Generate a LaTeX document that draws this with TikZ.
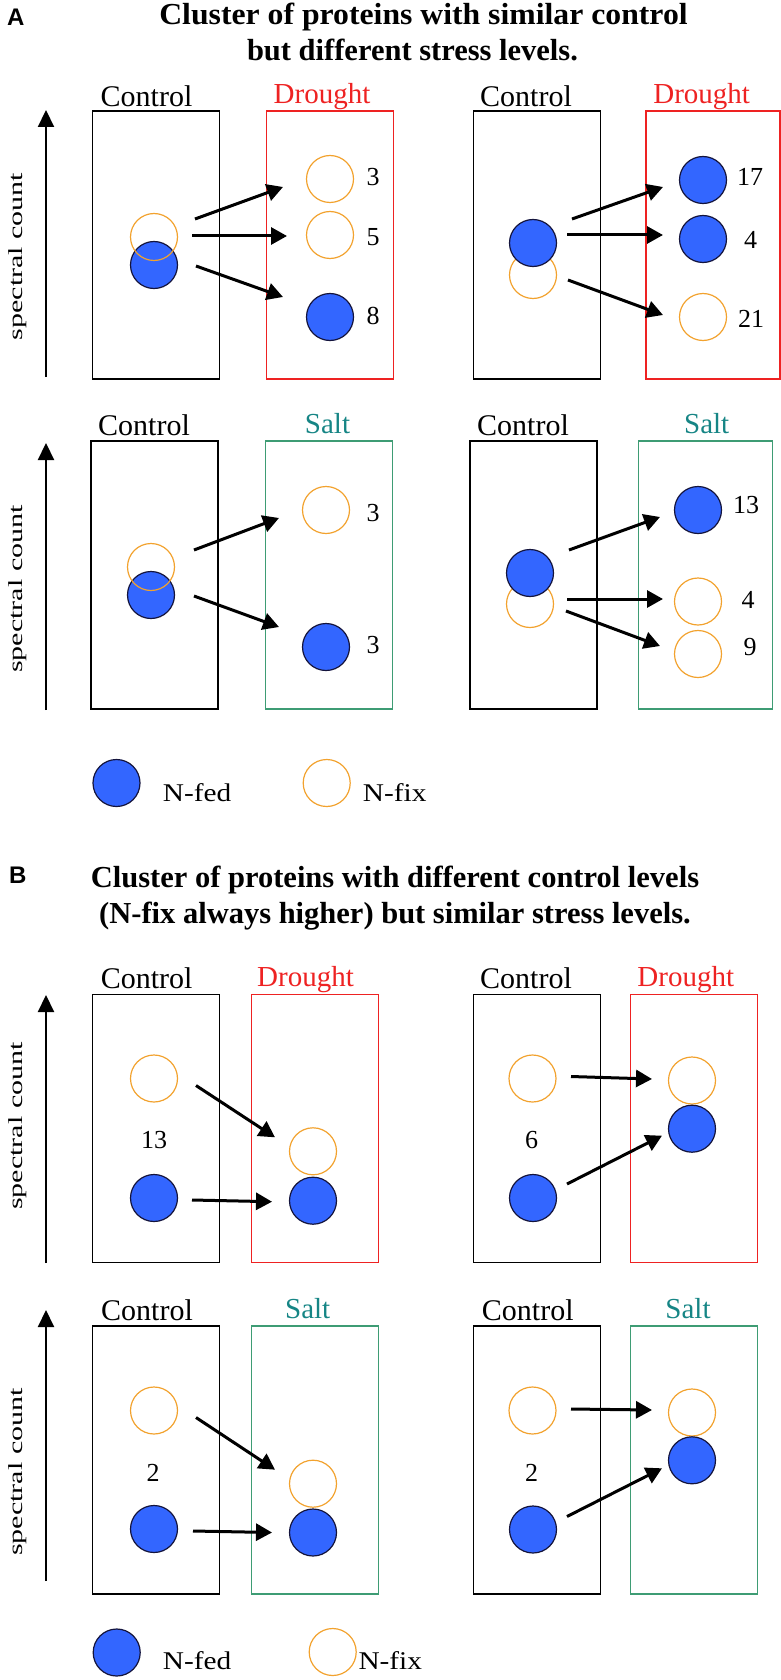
\documentclass[tikz,border=0pt]{standalone}
\usepackage{fontspec}
\setmainfont{Liberation Serif}
\newfontfamily\panelfont{Liberation Sans}
\usetikzlibrary{arrows.meta,positioning,calc}
\definecolor{nfed}{HTML}{3366FF}
\definecolor{nfededge}{HTML}{14143C}
\definecolor{nfix}{HTML}{F2A22E}
\definecolor{drought}{HTML}{EE2222}
\definecolor{saltgreen}{HTML}{3E9C74}
\definecolor{salttext}{HTML}{168585}
\tikzset{
  ctrlbox/.style={draw=black, line width=1.3pt, minimum width=127pt, minimum height=268pt, inner sep=0pt},
  droughtbox/.style={ctrlbox, draw=drought},
  saltbox/.style={ctrlbox, draw=saltgreen},
  fed/.style={circle, minimum size=47pt, inner sep=0pt, fill=nfed, draw=nfededge, line width=1.2pt},
  fix/.style={circle, minimum size=47pt, inner sep=0pt, draw=nfix, line width=1.2pt},
  levelarrow/.style={-{Triangle[length=16pt,width=17pt]}, line width=3pt},
  countaxis/.style={-{Triangle[length=17pt,width=16pt]}, line width=2.2pt},
  cond/.style={anchor=base, inner sep=0pt, font=\fontsize{30}{36}\selectfont},
  stress/.style={cond, font=\fontsize{29}{34}\selectfont},
  numlabel/.style={inner sep=0pt, font=\fontsize{26}{30}\selectfont},
  ylab/.style={anchor=base, rotate=90, inner sep=0pt, font=\fontsize{20}{24}\selectfont},
  heading/.style={align=center, inner sep=0pt, font=\fontsize{30.5}{36}\selectfont\bfseries},
  panelletter/.style={anchor=base west, inner sep=0pt, font=\fontsize{24}{26}\selectfont\panelfont\bfseries},
  legendtext/.style={anchor=base west, inner sep=0pt, font=\fontsize{25.5}{30}\selectfont}
}
\begin{document}
\begin{tikzpicture}[x=1pt, y=-1pt]
  \useasboundingbox (0,0) rectangle (781,1680);

  % ---------- panel A ----------
  \node[panelletter] (pA) at (7,25.5) {A};
  % base anchor = baseline of the last line
  \node[heading, anchor=base] (hA) at (412.5,61) {\hspace*{22pt}\scalebox{1.04}[1]{Cluster of proteins with similar control}\\but different stress levels.};

  % A: control vs drought, left
  \node[ctrlbox] (a1c) at (155.9,245) {};
  \node[droughtbox] (a1s) at (329.9,245) {};
  \node[cond] (a1cl) at (146.5,106.5) {Control};
  \node[stress, text=drought] (a1sl) at (322,104) {Drought};
  \coordinate (a1lo) at (46,377);
  \coordinate (a1hi) at (46,110);
  \draw[countaxis] (a1lo) -- (a1hi);
  \node[ylab] (a1lab) at (23,256.5) {\scalebox{1.5}[1]{spectral count}};
  \node[fed] (a1b) at (154,265) {};
  \node[fix] (a1o) at (154,237) {};
  \node[fix] (a1p) at (330,179) {};
  \node[fix] (a1q) at (330,235) {};
  \node[fed] (a1r) at (330,317) {};
  \node[numlabel] (a1np) at (373,177) {3};
  \node[numlabel] (a1nq) at (373,237) {5};
  \node[numlabel] (a1nr) at (373,316) {8};
  \draw[levelarrow] ($(a1o)+(41,-18)$) -- ($(a1p)+(-47,8)$);
  \draw[levelarrow] ($(a1o)+(38,-1)$) -- ($(a1q)+(-43,1)$);
  \draw[levelarrow] ($(a1b)+(42,1)$) -- ($(a1r)+(-47,-20)$);

  % A: control vs drought, right
  \node[ctrlbox] (a2c) at (536.7,245) {};
  \node[droughtbox, minimum width=134pt] (a2s) at (713,245) {};
  \node[cond] (a2cl) at (526,106.5) {Control};
  \node[stress, text=drought] (a2sl) at (701.7,104) {Drought};
  \node[fix] (a2o) at (533,275) {};
  \node[fed] (a2b) at (533,243) {};
  \node[fed] (a2p) at (703,180) {};
  \node[fed] (a2q) at (703,239) {};
  \node[fix] (a2r) at (703,317) {};
  \node[numlabel] (a2np) at (750,177) {17};
  \node[numlabel] (a2nq) at (750.5,240) {4};
  \node[numlabel] (a2nr) at (751,319) {21};
  \draw[levelarrow] ($(a2b)+(39,-24)$) -- ($(a2p)+(-40,7)$);
  \draw[levelarrow] ($(a2b)+(34,-8)$) -- ($(a2q)+(-40,-4)$);
  \draw[levelarrow] ($(a2o)+(35,5)$) -- ($(a2r)+(-40,-2)$);

  % A: control vs salt, left
  \node[ctrlbox] (a3c) at (154.4,575) {};
  \node[saltbox] (a3s) at (329,575) {};
  \node[cond] (a3cl) at (144,435) {Control};
  \node[stress, text=salttext] (a3sl) at (327.5,433) {Salt};
  \coordinate (a3lo) at (46,710);
  \coordinate (a3hi) at (46,443);
  \draw[countaxis] (a3lo) -- (a3hi);
  \node[ylab] (a3lab) at (23,589) {\scalebox{1.5}[1]{spectral count}};
  \node[fed] (a3b) at (151,595) {};
  \node[fix] (a3o) at (151,567) {};
  \node[fix] (a3p) at (326,510) {};
  \node[fed] (a3q) at (326,647) {};
  \node[numlabel] (a3np) at (373,513) {3};
  \node[numlabel] (a3nq) at (373,645) {3};
  \draw[levelarrow] ($(a3o)+(43,-17)$) -- ($(a3p)+(-47,8)$);
  \draw[levelarrow] ($(a3b)+(43,1)$) -- ($(a3q)+(-47,-20)$);

  % A: control vs salt, right
  \node[ctrlbox] (a4c) at (533.4,575) {};
  \node[saltbox, minimum width=134pt] (a4s) at (705.5,575) {};
  \node[cond] (a4cl) at (523,435) {Control};
  \node[stress, text=salttext] (a4sl) at (706.7,433) {Salt};
  \node[fix] (a4o) at (530,604) {};
  \node[fed] (a4b) at (530,573) {};
  \node[fed] (a4p) at (698,510) {};
  \node[fix] (a4q) at (698,601.5) {};
  \node[fix] (a4r) at (698,654) {};
  \node[numlabel] (a4np) at (746,505) {13};
  \node[numlabel] (a4nq) at (748,600) {4};
  \node[numlabel] (a4nr) at (750,647) {9};
  \draw[levelarrow] ($(a4b)+(39,-23)$) -- ($(a4p)+(-38,7)$);
  \draw[levelarrow] ($(a4o)+(37,-5)$) -- ($(a4q)+(-35,-2.5)$);
  \draw[levelarrow] ($(a4o)+(36,7)$) -- ($(a4r)+(-38,-8)$);

  % legend A
  \node[fed] (kA1) at (116.5,783) {};
  \node[legendtext] (kA1t) at (162.7,801.7) {\scalebox{1.15}[1]{N-fed}};
  \node[fix] (kA2) at (326.7,783) {};
  \node[legendtext] (kA2t) at (362.7,801.7) {\scalebox{1.15}[1]{N-fix}};

  % ---------- panel B ----------
  \node[panelletter] (pB) at (9,883.5) {B};
  \node[heading, anchor=base] (hB) at (395,923.5) {Cluster of proteins with different control levels\\(N-fix always higher) but similar stress levels.};

  % B: control vs drought, left
  \node[ctrlbox] (b1c) at (155.7,1128.7) {};
  \node[droughtbox] (b1s) at (315,1128.7) {};
  \node[cond] (b1cl) at (146.7,988.3) {Control};
  \node[stress, text=drought] (b1sl) at (305.5,986.5) {Drought};
  \coordinate (b1lo) at (46,1263);
  \coordinate (b1hi) at (46,995);
  \draw[countaxis] (b1lo) -- (b1hi);
  \node[ylab] (b1lab) at (23,1126) {\scalebox{1.5}[1]{spectral count}};
  \node[fix] (b1o) at (154,1078.5) {};
  \node[fed] (b1b) at (154,1198) {};
  \node[numlabel] (b1n) at (154,1140) {13};
  \node[fix] (b1p) at (313,1151.3) {};
  \node[fed] (b1q) at (313,1200.7) {};
  \draw[levelarrow] ($(b1o)+(42,7)$) -- ($(b1p)+(-38,-14)$);
  \draw[levelarrow] ($(b1b)+(38,2)$) -- ($(b1q)+(-41,1)$);

  % B: control vs drought, right
  \node[ctrlbox] (b2c) at (536.7,1128.7) {};
  \node[droughtbox] (b2s) at (694.2,1128.7) {};
  \node[cond] (b2cl) at (526,988.3) {Control};
  \node[stress, text=drought] (b2sl) at (685.8,986.5) {Drought};
  \node[fix] (b2o) at (532.5,1078.5) {};
  \node[fed] (b2b) at (533,1198) {};
  \node[numlabel] (b2n) at (531.7,1140) {6};
  \node[fix] (b2p) at (692,1080.5) {};
  \node[fed] (b2q) at (692,1128.7) {};
  \draw[levelarrow] ($(b2o)+(38.5,-2)$) -- ($(b2p)+(-40,-1.5)$);
  \draw[levelarrow] ($(b2b)+(34,-14)$) -- ($(b2q)+(-30,7)$);

  % B: control vs salt, left
  \node[ctrlbox] (b3c) at (155.7,1460) {};
  \node[saltbox] (b3s) at (315,1460) {};
  \node[cond] (b3cl) at (147,1320) {Control};
  \node[stress, text=salttext] (b3sl) at (307.7,1318) {Salt};
  \coordinate (b3lo) at (46,1581);
  \coordinate (b3hi) at (46,1310);
  \draw[countaxis] (b3lo) -- (b3hi);
  \node[ylab] (b3lab) at (23,1472) {\scalebox{1.5}[1]{spectral count}};
  \node[fix] (b3o) at (154,1410.5) {};
  \node[fed] (b3b) at (154,1529) {};
  \node[numlabel] (b3n) at (153,1473.3) {2};
  \node[fix] (b3p) at (313,1483.7) {};
  \node[fed] (b3q) at (313,1532.5) {};
  \draw[levelarrow] ($(b3o)+(42,7)$) -- ($(b3p)+(-38,-14)$);
  \draw[levelarrow] ($(b3b)+(39,2)$) -- ($(b3q)+(-41,0)$);

  % B: control vs salt, right
  \node[ctrlbox] (b4c) at (536.7,1460) {};
  \node[saltbox] (b4s) at (694.2,1460) {};
  \node[cond] (b4cl) at (527.8,1320) {Control};
  \node[stress, text=salttext] (b4sl) at (688,1318) {Salt};
  \node[fix] (b4o) at (532.5,1410.5) {};
  \node[fed] (b4b) at (533,1529.5) {};
  \node[numlabel] (b4n) at (531.7,1473.3) {2};
  \node[fix] (b4p) at (692,1412.5) {};
  \node[fed] (b4q) at (692,1460.3) {};
  \draw[levelarrow] ($(b4o)+(38.5,-1.5)$) -- ($(b4p)+(-40,-2.5)$);
  \draw[levelarrow] ($(b4b)+(34,-13)$) -- ($(b4q)+(-30,8)$);

  % legend B
  \node[fed] (kB1) at (116.7,1652.5) {};
  \node[legendtext] (kB1t) at (162.7,1669.3) {\scalebox{1.15}[1]{N-fed}};
  \node[fix] (kB2) at (332.7,1652) {};
  \node[legendtext] (kB2t) at (358.3,1669) {\scalebox{1.15}[1]{N-fix}};
\end{tikzpicture}
\end{document}
